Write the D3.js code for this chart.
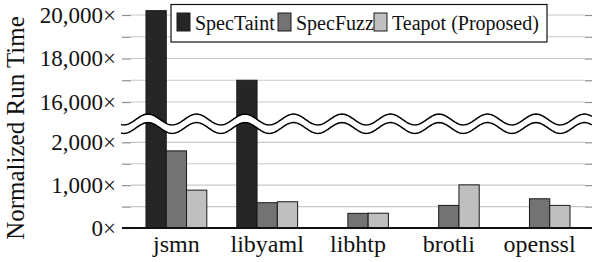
<!DOCTYPE html>
<html>
<head>
<meta charset="utf-8">
<script src="https://cdn.jsdelivr.net/npm/d3@7"></script>
<style>
  body { margin: 0; background: #fff; }
</style>
</head>
<body>
<div id="chart"></div>
<script>
// normalized run time per benchmark
var categories = ["jsmn", "libyaml", "libhtp", "brotli", "openssl"];
var seriesNames = ["SpecTaint", "SpecFuzz", "Teapot (Proposed)"];
var specTaint = [20200, 17000, null, null, null];
var specFuzz = [1800, 590, 342, 528, 682];
var teapot = [884, 612, 345, 1007, 528];

// axis ticks, the axis is broken between 2,500 and 15,000
var lowerTicks = [0, 500, 1000, 1500, 2000];
var upperTicks = [16000, 17000, 18000, 19000, 20000];
var lowerLabels = [0, 1000, 2000];
var upperLabels = [16000, 18000, 20000];

var colors = ["#262626", "#737373", "#bfbfbf"];
var serif = "'Liberation Serif', 'Times New Roman', serif";

var svgWidth = 592, svgHeight = 262;
var left = 131, right = 585;

var svg = d3.select("#chart").append("svg")
    .attr("width", svgWidth)
    .attr("height", svgHeight)
    .style("font-family", serif);

var xScale = d3.scaleBand()
    .domain(categories)
    .range([left, right])
    .paddingInner(0.33)
    .paddingOuter(0.165);

var xSub = d3.scaleBand()
    .domain(seriesNames)
    .range([0, xScale.bandwidth()]);

var yLow = d3.scaleLinear().domain([0, 2000]).range([228, 142.3]);
var yHigh = d3.scaleLinear().domain([16000, 20000]).range([102, 15]);

function yPos(v) {
  return v > 2500 ? yHigh(v) : yLow(v);
}

// gridlines
var grid = svg.append("g");
lowerTicks.slice(1).concat(upperTicks).forEach(function(v) {
  grid.append("line")
    .attr("x1", left).attr("x2", right)
    .attr("y1", yPos(v)).attr("y2", yPos(v))
    .attr("stroke", "#c8c8c8")
    .attr("stroke-width", 1.2);
});

// tick marks on both sides, labels only on the major ones
function tickAxes(scale, ticks, labels) {
  var fmt = function(d) { return labels.indexOf(d) >= 0 ? d3.format(",")(d) + "\u00d7" : ""; };
  var l = svg.append("g")
    .attr("transform", "translate(" + left + ",0)")
    .call(d3.axisLeft(scale).tickValues(ticks).tickSize(9).tickPadding(6).tickFormat(fmt));
  var r = svg.append("g")
    .attr("transform", "translate(" + right + ",0)")
    .call(d3.axisRight(scale).tickValues(ticks).tickSize(8).tickFormat(""));
  [l, r].forEach(function(g) {
    g.attr("font-family", serif).attr("font-size", 23);
    g.select(".domain").remove();
    g.selectAll("line").attr("stroke", "#8f8f8f").attr("stroke-width", 1.2);
    g.selectAll("text").attr("fill", "#111");
  });
}
tickAxes(yLow, lowerTicks, lowerLabels);
tickAxes(yHigh, upperTicks, upperLabels);

// bars
var allSeries = [specTaint, specFuzz, teapot];
allSeries.forEach(function(values, s) {
  svg.append("g").selectAll("rect")
    .data(categories.map(function(c, i) { return { cat: c, v: values[i] }; })
      .filter(function(d) { return d.v != null; }))
    .enter()
    .append("rect")
      .attr("x", function(d) { return xScale(d.cat) + xSub(seriesNames[s]); })
      .attr("width", xSub.bandwidth())
      .attr("y", function(d) { return yPos(d.v); })
      .attr("height", function(d) { return yLow(0) - yPos(d.v); })
      .attr("fill", colors[s])
      .attr("stroke", "#1a1a1a")
      .attr("stroke-width", 1);
});

// the wavy break
var period = 48.5, amp = 5.4, phase = 148;
var upperC = 119.5, lowerC = 128;
var xs = d3.range(121, 593, 1);
function waveY(c, x) { return c - amp * Math.cos(2 * Math.PI * (x - phase) / period); }
var line = d3.line();
var topPts = xs.map(function(x) { return [x, waveY(upperC, x)]; });
var botPts = xs.map(function(x) { return [x, waveY(lowerC, x)]; });
svg.append("path")
  .attr("d", line(topPts.concat(botPts.slice().reverse())) + "Z")
  .attr("fill", "#fff");
svg.append("path").attr("d", line(topPts))
  .attr("fill", "none").attr("stroke", "#000").attr("stroke-width", 1.5);
svg.append("path").attr("d", line(botPts))
  .attr("fill", "none").attr("stroke", "#000").attr("stroke-width", 1.5);

// x axis
svg.append("line")
  .attr("x1", 122).attr("x2", svgWidth)
  .attr("y1", yLow(0)).attr("y2", yLow(0))
  .attr("stroke", "#111").attr("stroke-width", 2);

svg.append("g").selectAll("text")
  .data(categories)
  .enter()
  .append("text")
    .attr("x", function(d) { return xScale(d) + xScale.bandwidth() / 2; })
    .attr("y", 252)
    .attr("text-anchor", "middle")
    .attr("fill", "#111")
    .style("font-family", serif)
    .style("font-size", "24px")
    .text(function(d) { return d; });

// y axis title
svg.append("text")
  .attr("transform", "translate(24," + 128 + ") rotate(-90)")
  .attr("text-anchor", "middle")
  .attr("fill", "#111")
  .style("font-family", serif)
  .style("font-size", "25px")
  .text("Normalized Run Time");

// legend
var legend = svg.append("g");
legend.append("rect")
  .attr("x", 171).attr("y", 4.5)
  .attr("width", 376).attr("height", 37.5)
  .attr("fill", "#fff").attr("stroke", "#111").attr("stroke-width", 1.2);
var legendX = [177, 278, 374];
seriesNames.forEach(function(name, i) {
  legend.append("rect")
    .attr("x", legendX[i]).attr("y", 13)
    .attr("width", 13).attr("height", 18)
    .attr("fill", colors[i]).attr("stroke", "#1a1a1a").attr("stroke-width", 1);
  legend.append("text")
    .attr("x", legendX[i] + 18).attr("y", 30)
    .attr("fill", "#111")
    .style("font-family", serif)
    .style("font-size", "20px")
    .text(name);
});
</script>
</body>
</html>
